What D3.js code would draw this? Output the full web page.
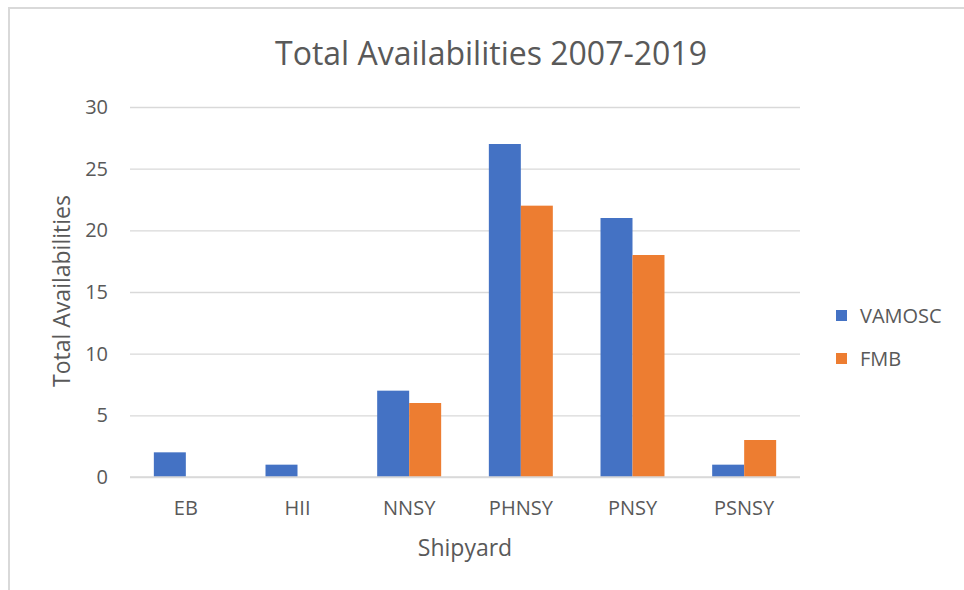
<!DOCTYPE html>
<html lang="en">
<head>
    <meta charset="UTF-8">
    <title>Total Availabilities 2007-2019</title>
    <script src="https://d3js.org/d3.v7.min.js"></script>
    <style>
        body { margin: 0; background: #fff; font-family: "Open Sans", "Liberation Sans", Arial, sans-serif; }
        svg text { fill: #595959; }
    </style>
</head>
<body>
    <svg width="964" height="590"></svg>
    <script>
        const shipyards = ["EB", "HII", "NNSY", "PHNSY", "PNSY", "PSNSY"];
        const seriesNames = ["VAMOSC", "FMB"];
        const vamosc = [2, 1, 7, 27, 21, 1];
        const fmb = [0, 0, 6, 22, 18, 3];
        const yTicks = [0, 5, 10, 15, 20, 25, 30];
        const colors = ["#4472C4", "#ED7D31"];

        const svg = d3.select("svg");
        const margin = { top: 107, right: 164, bottom: 113, left: 130 };
        const width = +svg.attr("width") - margin.left - margin.right;
        const height = +svg.attr("height") - margin.top - margin.bottom;

        // chart frame: only top and left edges visible
        svg.append("line").attr("x1", 8).attr("x2", 964).attr("y1", 8).attr("y2", 8)
            .attr("stroke", "#d9d9d9").attr("stroke-width", 2);
        svg.append("line").attr("x1", 9).attr("x2", 9).attr("y1", 8).attr("y2", 590)
            .attr("stroke", "#d9d9d9").attr("stroke-width", 2);

        const g = svg.append("g").attr("transform", `translate(${margin.left},${margin.top})`);

        const x = d3.scaleBand().domain(shipyards).range([0, width]).padding(0);
        const groupW = x.bandwidth() * 0.573;
        const x1 = d3.scaleBand().domain(seriesNames).range([0, groupW]).padding(0);
        const y = d3.scaleLinear().domain([0, 30]).range([height, 0]);

        // gridlines + y labels
        const yAxis = g.append("g")
            .call(d3.axisLeft(y).tickValues(yTicks).tickSize(-width).tickPadding(22));
        yAxis.select(".domain").remove();
        yAxis.selectAll(".tick line").attr("stroke", "#d9d9d9").attr("stroke-width", 1.3);
        yAxis.selectAll(".tick text").attr("font-size", 20).style("font-family", "Open Sans");

        const rows = shipyards.map((s, i) => ({ name: s, values: [vamosc[i], fmb[i]] }));

        const groups = g.selectAll(".grp").data(rows).enter().append("g")
            .attr("class", "grp")
            .attr("transform", d => `translate(${x(d.name) + (x.bandwidth() - groupW) / 2},0)`);

        groups.selectAll("rect")
            .data(d => d.values.map((v, j) => ({ key: seriesNames[j], v: v, j: j })))
            .enter().append("rect")
            .attr("x", d => x1(d.key))
            .attr("width", x1.bandwidth())
            .attr("y", d => y(d.v))
            .attr("height", d => y(0) - y(d.v))
            .attr("fill", d => colors[d.j]);

        // baseline
        g.append("line").attr("x1", 0).attr("x2", width).attr("y1", y(0)).attr("y2", y(0))
            .attr("stroke", "#d9d9d9").attr("stroke-width", 1.3);

        // x labels
        const xAxis = g.append("g").attr("transform", `translate(0,${height})`)
            .call(d3.axisBottom(x).tickSize(0).tickPadding(24));
        xAxis.select(".domain").remove();
        xAxis.selectAll(".tick text").attr("font-size", 20).style("font-family", "Open Sans");

        // titles
        svg.append("text").attr("x", 491).attr("y", 65).attr("text-anchor", "middle")
            .attr("font-size", 32).text("Total Availabilities 2007-2019");
        svg.append("text").attr("x", 465).attr("y", 556).attr("text-anchor", "middle")
            .attr("font-size", 23).text("Shipyard");
        svg.append("text").attr("transform", "translate(70,291) rotate(-90)")
            .attr("text-anchor", "middle").attr("font-size", 23).text("Total Availabilities");

        // legend
        const legend = svg.append("g").attr("transform", "translate(836,310)");
        seriesNames.forEach((name, i) => {
            const row = legend.append("g").attr("transform", `translate(0,${i * 43})`);
            row.append("rect").attr("width", 11).attr("height", 11).attr("fill", colors[i]);
            row.append("text").attr("x", 24).attr("y", 13).attr("font-size", 20).text(name);
        });
    </script>
</body>
</html>
